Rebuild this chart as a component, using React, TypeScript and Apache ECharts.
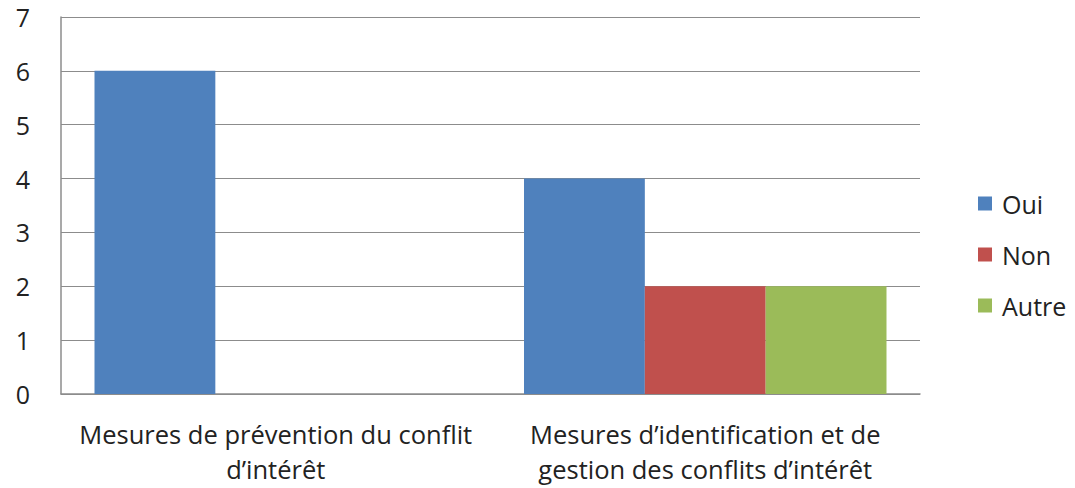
import React, { useEffect, useRef } from "react";
import * as echarts from "echarts";

const categories = [
  "Mesures de prévention du conflit\nd’intérêt",
  "Mesures d’identification et de\ngestion des conflits d’intérêt",
];
const oui = [6, 4];
const non = [0, 2];
const autre = [0, 2];
const yTicks = [0, 1, 2, 3, 4, 5, 6, 7];

const FONT = "Open Sans";

export default function App() {
  const ref = useRef<HTMLDivElement>(null);
  useEffect(() => {
    if (!ref.current) return;
    const chart = echarts.init(ref.current, undefined, { renderer: "svg" });
    chart.setOption({
      animation: false,
      backgroundColor: "#ffffff",
      textStyle: { fontFamily: FONT },
      grid: { left: 61, right: 155, top: 17, bottom: 94, containLabel: false, outerBoundsMode: "none" },
      legend: {
        orient: "vertical",
        left: 973,
        top: 186,
        itemWidth: 14,
        itemHeight: 14,
        itemGap: 26,
        icon: "rect",
        textStyle: { fontSize: 25, color: "#222", fontFamily: FONT, padding: [0, 0, 0, 5] },
        data: ["Oui", "Non", "Autre"],
      },
      xAxis: {
        type: "category",
        data: categories,
        axisLine: { lineStyle: { color: "#8c8c8c", width: 1.5 } },
        axisTick: { show: false },
        axisLabel: { interval: 0, fontSize: 25.5, color: "#222", margin: 23, lineHeight: 34.5, fontFamily: FONT },
      },
      yAxis: {
        type: "value",
        min: yTicks[0],
        max: yTicks[yTicks.length - 1],
        interval: 1,
        axisLine: { show: true, lineStyle: { color: "#8c8c8c", width: 1.5 } },
        axisTick: { show: false },
        splitLine: { lineStyle: { color: "#8c8c8c", width: 1.2 } },
        axisLabel: { fontSize: 25, color: "#222", margin: 31, fontFamily: FONT },
      },
      series: [
        { name: "Oui", type: "bar", data: oui, itemStyle: { color: "#4f81bd" }, barGap: "0%", barCategoryGap: "15.6%" },
        { name: "Non", type: "bar", data: non, itemStyle: { color: "#c0504d" }, barGap: "0%", barCategoryGap: "15.6%" },
        { name: "Autre", type: "bar", data: autre, itemStyle: { color: "#9bbb59" }, barGap: "0%", barCategoryGap: "15.6%" },
      ],
    });
    return () => chart.dispose();
  }, []);
  return (
    <div
      ref={ref}
      style={{ position: "fixed", left: 0, top: 0, width: 1075, height: 488 }}
    />
  );
}
